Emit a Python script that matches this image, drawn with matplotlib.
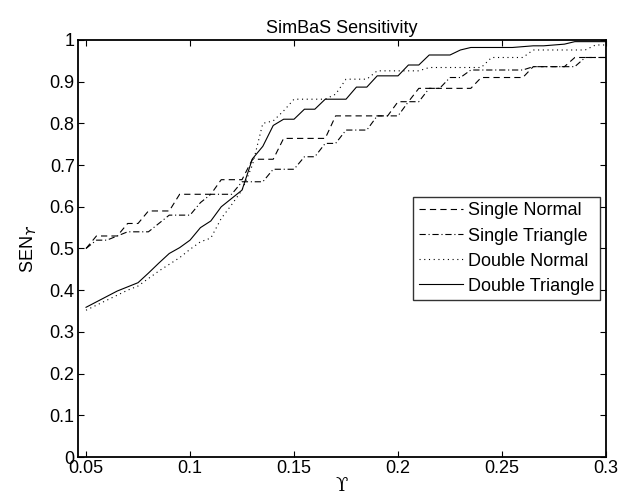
import matplotlib
matplotlib.use("Agg")
import matplotlib.pyplot as plt

plt.rcParams['font.family'] = ['Liberation Sans', 'DejaVu Sans']
plt.rcParams['lines.scale_dashes'] = False

gamma = [0.05, 0.055, 0.06, 0.065, 0.07, 0.075, 0.08, 0.085, 0.09, 0.095,
         0.10, 0.105, 0.11, 0.115, 0.12, 0.125, 0.13, 0.135, 0.14, 0.145,
         0.15, 0.155, 0.16, 0.165, 0.17, 0.175, 0.18, 0.185, 0.19, 0.195,
         0.20, 0.205, 0.21, 0.215, 0.22, 0.225, 0.23, 0.235, 0.24, 0.245,
         0.25, 0.255, 0.26, 0.265, 0.27, 0.275, 0.28, 0.285, 0.29, 0.295, 0.30]

single_normal = [0.50, 0.53, 0.53, 0.53, 0.56, 0.56, 0.59, 0.59, 0.59, 0.63,
                 0.63, 0.63, 0.63, 0.665, 0.665, 0.665, 0.714, 0.714, 0.714, 0.764,
                 0.764, 0.764, 0.764, 0.764, 0.818, 0.818, 0.818, 0.818, 0.818, 0.818,
                 0.852, 0.852, 0.884, 0.884, 0.884, 0.884, 0.884, 0.884, 0.91, 0.91,
                 0.91, 0.91, 0.91, 0.936, 0.936, 0.936, 0.936, 0.958, 0.958, 0.958, 0.958]

single_triangle = [0.50, 0.52, 0.52, 0.53, 0.54, 0.54, 0.54, 0.56, 0.58, 0.58,
                   0.58, 0.61, 0.63, 0.63, 0.63, 0.66, 0.66, 0.66, 0.69, 0.69,
                   0.69, 0.72, 0.72, 0.752, 0.752, 0.784, 0.784, 0.784, 0.818, 0.818,
                   0.818, 0.852, 0.852, 0.884, 0.884, 0.91, 0.91, 0.928, 0.928, 0.928,
                   0.928, 0.928, 0.928, 0.936, 0.936, 0.936, 0.936, 0.936, 0.958, 0.958, 0.958]

double_normal = [0.352, 0.364, 0.376, 0.388, 0.400, 0.410, 0.428, 0.446, 0.462, 0.478,
                 0.498, 0.516, 0.525, 0.572, 0.605, 0.64, 0.70, 0.80, 0.806, 0.83,
                 0.858, 0.858, 0.858, 0.858, 0.87, 0.906, 0.906, 0.906, 0.926, 0.926,
                 0.926, 0.926, 0.926, 0.934, 0.934, 0.934, 0.934, 0.934, 0.934, 0.958,
                 0.958, 0.958, 0.958, 0.976, 0.976, 0.976, 0.976, 0.976, 0.976, 0.988, 0.988]

double_triangle = [0.359, 0.372, 0.385, 0.398, 0.408, 0.418, 0.441, 0.465, 0.488, 0.502,
                   0.520, 0.55, 0.566, 0.60, 0.62, 0.64, 0.715, 0.745, 0.795, 0.81,
                   0.81, 0.834, 0.834, 0.858, 0.858, 0.858, 0.887, 0.887, 0.914, 0.914,
                   0.914, 0.94, 0.94, 0.964, 0.964, 0.964, 0.976, 0.982, 0.982, 0.982,
                   0.982, 0.982, 0.984, 0.986, 0.986, 0.988, 0.99, 0.996, 0.996, 0.996, 0.996]

labels = ['Single Normal', 'Single Triangle', 'Double Normal', 'Double Triangle']
xticks = [0.05, 0.1, 0.15, 0.2, 0.25, 0.3]
xticklabels = ['0.05', '0.1', '0.15', '0.2', '0.25', '0.3']
yticks = [0, 0.1, 0.2, 0.3, 0.4, 0.5, 0.6, 0.7, 0.8, 0.9, 1.0]
yticklabels = ['0', '0.1', '0.2', '0.3', '0.4', '0.5', '0.6', '0.7', '0.8', '0.9', '1']

fig = plt.figure(figsize=(6.22, 4.96), dpi=100)
ax = fig.add_axes([0.1246, 0.0786, 0.8497, 0.8408])

lw = 0.8
ax.plot(gamma, single_normal, color='black', lw=lw, dashes=(4.5, 3.0), label=labels[0])
ax.plot(gamma, single_triangle, color='black', lw=lw, dashes=(4.5, 2.0, 0.8, 2.0), label=labels[1])
ax.plot(gamma, double_normal, color='black', lw=lw, dashes=(0.8, 2.6), label=labels[2])
ax.plot(gamma, double_triangle, color='black', lw=lw, linestyle='-', label=labels[3])

ax.set_xlim(0.0459, 0.3)
ax.set_ylim(0, 1)
ax.set_xticks(xticks)
ax.set_xticklabels(xticklabels)
ax.set_yticks(yticks)
ax.set_yticklabels(yticklabels)
ax.tick_params(direction='in', length=4, width=0.8, top=True, right=True,
               labelsize=13, pad=2)
for s in ax.spines.values():
    s.set_linewidth(1.3)

ax.set_title('SimBaS Sensitivity', fontsize=13, pad=5)
ax.set_xlabel('\u03d2', fontsize=13, family=['DejaVu Serif'], labelpad=0)
ax.set_ylabel('SEN$_{\u03d2}$', fontsize=13, labelpad=8)

leg = ax.legend(loc='upper right', bbox_to_anchor=(0.989, 0.6235), borderaxespad=0,
                fontsize=13, frameon=True, fancybox=False, handlelength=2.45,
                handletextpad=0.3, borderpad=0.3, labelspacing=0.45)
leg.get_frame().set_edgecolor('black')
leg.get_frame().set_linewidth(1.0)

fig.savefig('out.png', dpi=100)
